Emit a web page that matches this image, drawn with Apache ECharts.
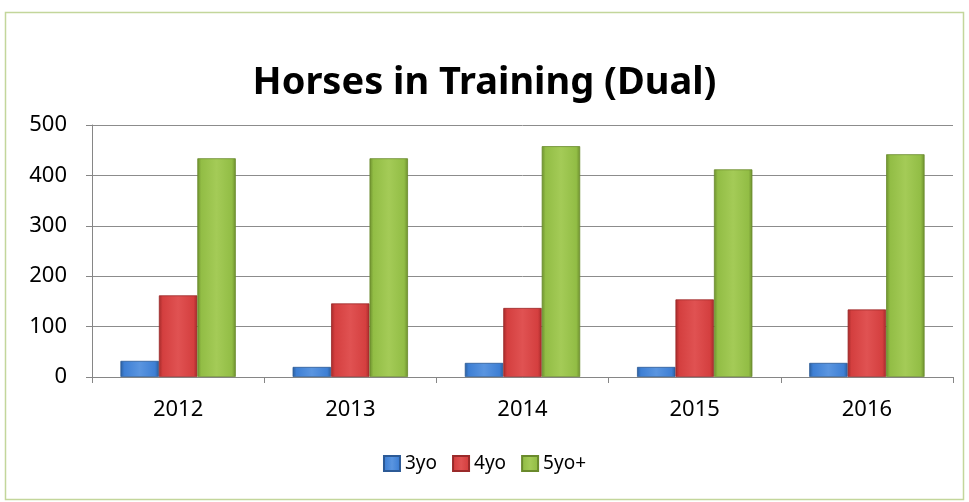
<!DOCTYPE html>
<html><head><meta charset="utf-8">
<script src="https://cdn.jsdelivr.net/npm/echarts@6/dist/echarts.min.js"></script>
<style>html,body{margin:0;padding:0;background:#fff}#c{width:969px;height:502px}</style>
</head><body><div id="c"></div>
<script>
const categories = ['2012','2013','2014','2015','2016'];
const s3yo = [32, 20, 28, 20, 28];
const s4yo = [162, 146, 137, 154, 134];
const s5yo = [434, 434, 458, 412, 442];
const yTicks = [0, 100, 200, 300, 400, 500];

function grad(dark, mid, light){
  return new echarts.graphic.LinearGradient(0,0,1,0,[
    {offset:0,color:dark},{offset:0.1,color:mid},{offset:0.5,color:light},{offset:0.9,color:mid},{offset:1,color:dark}]);
}
const chart = echarts.init(document.getElementById('c'));
const font = 'Noto Sans';
chart.setOption({
  animation:false,
  title:{text:'Horses in Training (Dual)',left:'center',top:59,textStyle:{fontFamily:font,fontWeight:'bold',fontSize:38,color:'#000'}},
  graphic:[{type:'rect',shape:{x:5.5,y:12.5,width:958,height:487},style:{fill:'none',stroke:'#c3d69b',lineWidth:1.5}}],
  legend:{top:449,left:'center',itemWidth:16,itemHeight:15,itemGap:15,icon:'rect',
    textStyle:{fontFamily:font,fontSize:19,color:'#000'}},
  grid:{left:92,right:16,top:125,bottom:125},
  xAxis:{type:'category',data:categories,
    axisLine:{lineStyle:{color:'#868686'}},
    axisTick:{show:true,length:6,lineStyle:{color:'#868686'}},
    axisLabel:{fontFamily:font,fontSize:22,color:'#000',margin:22}},
  yAxis:{type:'value',min:0,max:500,interval:100,
    axisLine:{show:true,lineStyle:{color:'#868686'}},
    axisTick:{show:true,length:6,lineStyle:{color:'#868686'}},
    splitLine:{lineStyle:{color:'#8c8c8c'}},
    axisLabel:{fontFamily:font,fontSize:22,color:'#000',margin:25,
      formatter:v=>yTicks.includes(v)?String(v):''}},
  series:[
    {name:'3yo',type:'bar',data:s3yo,barGap:'0%',barCategoryGap:'33%',
     itemStyle:{color:grad('#2c5f9e','#3e7fd4','#5a95e0'),borderColor:'#2c5a96',borderWidth:0.8}},
    {name:'4yo',type:'bar',data:s4yo,barGap:'0%',barCategoryGap:'33%',
     itemStyle:{color:grad('#a52a2a','#d43f3f','#e05252'),borderColor:'#9a2a2a',borderWidth:0.8}},
    {name:'5yo+',type:'bar',data:s5yo,barGap:'0%',barCategoryGap:'33%',
     itemStyle:{color:grad('#6d8f2e','#92bd45','#a4cb57'),borderColor:'#6a8a2c',borderWidth:0.8}}
  ],
  color:['#3e7fd4','#d43f3f','#92bd45']
});
</script></body></html>
